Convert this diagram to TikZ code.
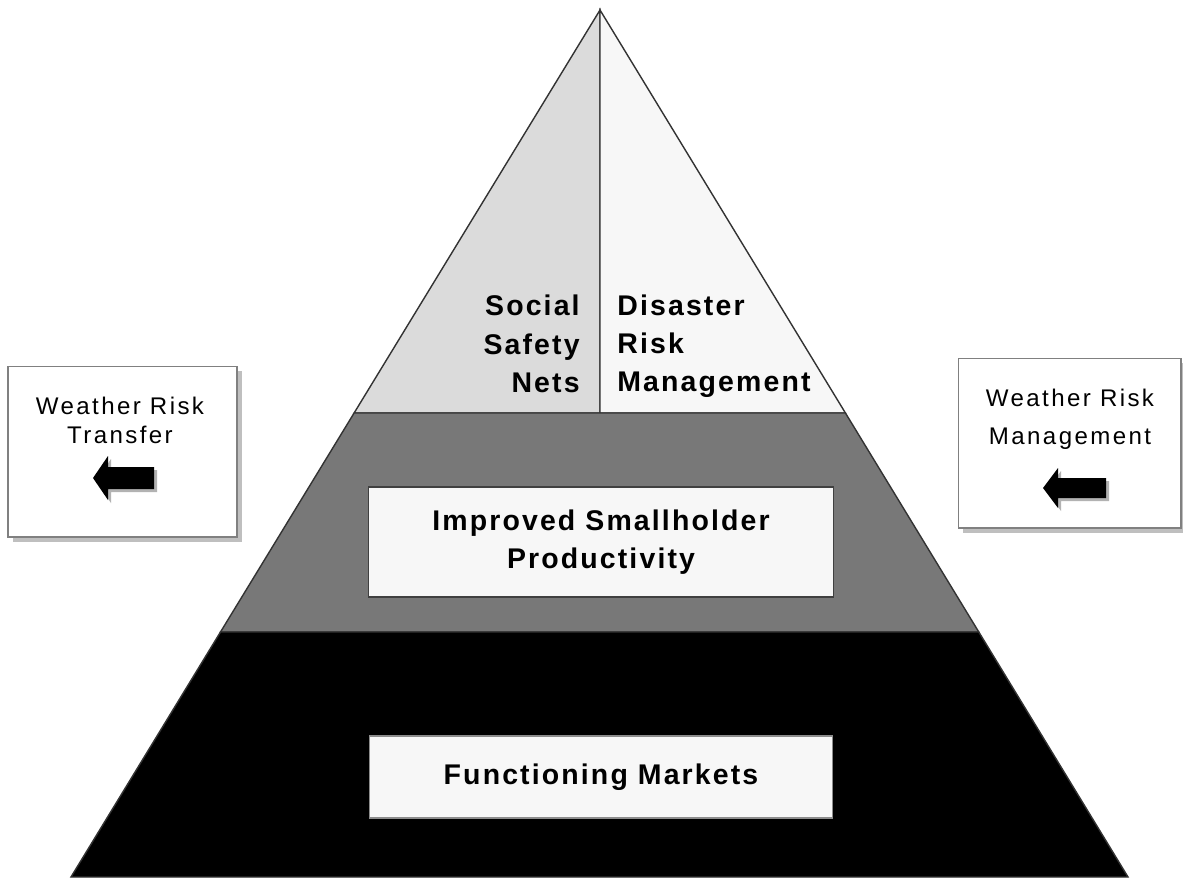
\documentclass[tikz,border=0pt]{standalone}
\usepackage{fontspec}
\setmainfont{Liberation Sans}
\newfontfamily\pyrfont[LetterSpace=7.5]{Liberation Sans}
\newfontfamily\sidefont[LetterSpace=10]{Liberation Sans}
\usetikzlibrary{calc,shadows}

\begin{document}
\begin{tikzpicture}[
        x=0.02cm, y=-0.02cm,
        outline/.style={draw=black!80,line width=0.8pt},
        layerbox/.style={draw=black!75,fill=black!3,line width=0.6pt,align=center,
            font=\pyrfont\bfseries\fontsize{16.2}{21.8}\selectfont},
        sidebox/.style={draw=black!50,fill=white,line width=0.6pt,
            drop shadow={shadow xshift=0.1cm,shadow yshift=-0.1cm,fill=black!25,opacity=1}},
        sidetext/.style={align=center,inner sep=0pt},
        pyrtext/.style={inner sep=0pt,font=\pyrfont\bfseries\fontsize{16.2}{21.8}\selectfont},
        blockarrow/.style={fill=black},
        arrowshadow/.style={fill=black!30}
    ]
        \useasboundingbox (0,0) rectangle (1183,877);

        % Define the corners of the pyramid
        \coordinate (apex) at (600,10);
        \coordinate (BL) at (71,877);
        \coordinate (BR) at (1128,877);
        \coordinate (L1) at ($(apex)!0.4648!(BL)$);
        \coordinate (R1) at ($(apex)!0.4648!(BR)$);
        \coordinate (L2) at ($(apex)!0.7174!(BL)$);
        \coordinate (R2) at ($(apex)!0.7174!(BR)$);
        \coordinate (M1) at (600,413);

        % Draw the layers of the pyramid
        \draw[outline,fill=black!14] (apex) -- (L1) -- (M1) -- cycle;
        \draw[outline,fill=black!3] (apex) -- (M1) -- (R1) -- cycle;
        \draw[outline,fill=black!53] (L1) -- (R1) -- (R2) -- (L2) -- cycle;
        \draw[outline,fill=black] (L2) -- (R2) -- (BR) -- (BL) -- cycle;

        % Draw the labels of the top layer
        \node[pyrtext,anchor=east,align=right] (ssn) at (580,344) {Social\\Safety\\Nets};
        \node[pyrtext,anchor=west,align=left] (drm) at (617,346) {Disaster\\Risk\\Management};

        % Draw the boxes in the lower layers
        \node[layerbox,minimum width=9.32cm,minimum height=2.2cm] (isp) at (601,542)
            {Improved Smallholder\\Productivity};
        \node[layerbox,draw=black!45,minimum width=9.28cm,minimum height=1.64cm] (fm) at (601,777)
            {Functioning Markets};

        % Draw the side boxes
        \node[sidebox,minimum width=4.58cm,minimum height=3.42cm] (wrt) at (122.5,451.5) {};
        \node[sidebox,minimum width=4.46cm,minimum height=3.4cm] (wrm) at (1069.5,443) {};
        \node[sidetext,font=\sidefont\fontsize{13.7}{16.4}\selectfont] (wrtlabel) at (120,420)
            {Weather Risk\\Transfer};
        \node[sidetext,font=\sidefont\fontsize{13.7}{21.5}\selectfont] (wrmlabel) at (1070,419)
            {Weather Risk\\Management};

        % Draw the block arrows
        \fill[arrowshadow,shift={(96,481)}] (0,0) -- (15,-22) -- (15,-11) -- (61,-11)
            -- (61,11) -- (15,11) -- (15,22) -- cycle;
        \fill[blockarrow,shift={(93,478)}] (0,0) -- (15,-22) -- (15,-11) -- (61,-11)
            -- (61,11) -- (15,11) -- (15,22) -- cycle;
        \fill[arrowshadow,shift={(1046,491)}] (0,0) -- (15,-20) -- (15,-10) -- (63,-10)
            -- (63,10) -- (15,10) -- (15,20) -- cycle;
        \fill[blockarrow,shift={(1043,488)}] (0,0) -- (15,-20) -- (15,-10) -- (63,-10)
            -- (63,10) -- (15,10) -- (15,20) -- cycle;
    \end{tikzpicture}
\end{document}
